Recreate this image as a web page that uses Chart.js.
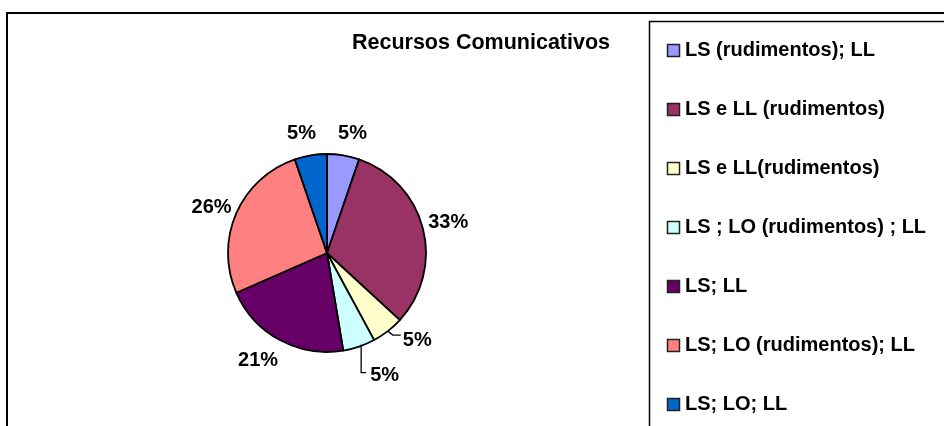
<!DOCTYPE html>
<html><head><meta charset="utf-8">
<script src="https://cdn.jsdelivr.net/npm/chart.js@4/dist/chart.umd.min.js"></script>
<style>html,body{margin:0;padding:0;background:#fff;overflow:hidden}</style>
</head><body>
<canvas id="c" width="944" height="426"></canvas>
<script>
const chartTitle = 'Recursos Comunicativos';
const categories = [
  'LS (rudimentos); LL',
  'LS e LL (rudimentos)',
  'LS e LL(rudimentos)',
  'LS ; LO (rudimentos) ; LL',
  'LS; LL',
  'LS; LO (rudimentos); LL',
  'LS; LO; LL'
];
const counts = [1, 6, 1, 1, 4, 5, 1];
const percentLabels = ['5%', '33%', '5%', '5%', '21%', '26%', '5%'];
const sliceColors = ['#9999FF', '#993366', '#FFFFCC', '#CCFFFF', '#660066', '#FF8080', '#0066CC'];

const FONT = 'Liberation Sans, Arial, sans-serif';

const decor = {
  id: 'decor',
  beforeDraw(chart) {
    const ctx = chart.ctx;
    ctx.save();
    ctx.fillStyle = '#fff';
    ctx.fillRect(0, 0, chart.width, chart.height);
    ctx.strokeStyle = '#000';
    ctx.lineWidth = 2;
    ctx.strokeRect(7, 13, chart.width + 20, chart.height + 20);
    ctx.lineWidth = 1.5;
    ctx.strokeRect(649.5, 21.5, chart.width, chart.height);
    ctx.fillStyle = '#000';
    ctx.font = 'bold 21.5px ' + FONT;
    ctx.textAlign = 'center';
    ctx.textBaseline = 'alphabetic';
    ctx.fillText(chartTitle, 481, 49);
    ctx.restore();
  },
  afterDatasetsDraw(chart) {
    const ctx = chart.ctx;
    const meta = chart.getDatasetMeta(0);
    ctx.save();
    ctx.fillStyle = '#000';
    ctx.strokeStyle = '#000';
    ctx.lineWidth = 1.3;
    ctx.font = 'bold 20px ' + FONT;
    ctx.textBaseline = 'middle';
    meta.data.forEach((arc, i) => {
      const p = arc.getProps(['x', 'y', 'startAngle', 'endAngle', 'outerRadius'], true);
      const mid = (p.startAngle + p.endAngle) / 2;
      const txt = percentLabels[i];
      const ex = p.x + Math.cos(mid) * p.outerRadius;
      const ey = p.y + Math.sin(mid) * p.outerRadius;
      if (i === 2) {
        const bx = ex + 5, by = ey + 4;
        ctx.beginPath();
        ctx.moveTo(ex, ey); ctx.lineTo(bx, by); ctx.lineTo(bx + 8, by);
        ctx.stroke();
        ctx.textAlign = 'left';
        ctx.fillText(txt, bx + 10, by + 5);
      } else if (i === 3) {
        const by = ey + 26;
        ctx.beginPath();
        ctx.moveTo(ex + 2, ey - 2); ctx.lineTo(ex + 2, by); ctx.lineTo(ex + 7, by);
        ctx.stroke();
        ctx.textAlign = 'left';
        ctx.fillText(txt, ex + 11, by + 3);
      } else {
        let d = p.outerRadius + 23;
        let a = mid;
        if (i === 1) d = p.outerRadius + 26;
        if (i === 5) { d = p.outerRadius + 25; a -= 0.04; }
        if (i === 4) { d = p.outerRadius + 29; a += 0.073; }
        if (i === 0) a += 0.045;
        if (i === 6) a -= 0.045;
        ctx.textAlign = 'center';
        ctx.fillText(txt, p.x + Math.cos(a) * d, p.y + Math.sin(a) * d);
      }
    });
    ctx.restore();
  },
  afterDraw(chart) {
    const ctx = chart.ctx;
    const ds = chart.data.datasets[0];
    ctx.save();
    ctx.font = 'bold 20px ' + FONT;
    ctx.textBaseline = 'middle';
    ctx.textAlign = 'left';
    chart.data.labels.forEach((lab, i) => {
      const cy = 50.5 + i * 59;
      ctx.fillStyle = ds.backgroundColor[i];
      ctx.fillRect(667.5, cy - 6, 12, 12);
      ctx.strokeStyle = '#222';
      ctx.lineWidth = 1.5;
      ctx.strokeRect(667.5, cy - 6, 12, 12);
      ctx.fillStyle = '#000';
      ctx.fillText(lab, 685, cy);
    });
    ctx.restore();
  }
};

new Chart(document.getElementById('c'), {
  type: 'pie',
  data: {
    labels: categories,
    datasets: [{
      data: counts,
      backgroundColor: sliceColors,
      borderColor: '#000',
      borderWidth: 1.8,
      radius: 99
    }]
  },
  options: {
    responsive: false,
    animation: false,
    devicePixelRatio: 1,
    layout: { padding: { left: 200, right: 490, top: 153, bottom: 73 } },
    plugins: {
      legend: { display: false },
      title: { display: false },
      tooltip: { enabled: false }
    }
  },
  plugins: [decor]
});
</script>
</body></html>
